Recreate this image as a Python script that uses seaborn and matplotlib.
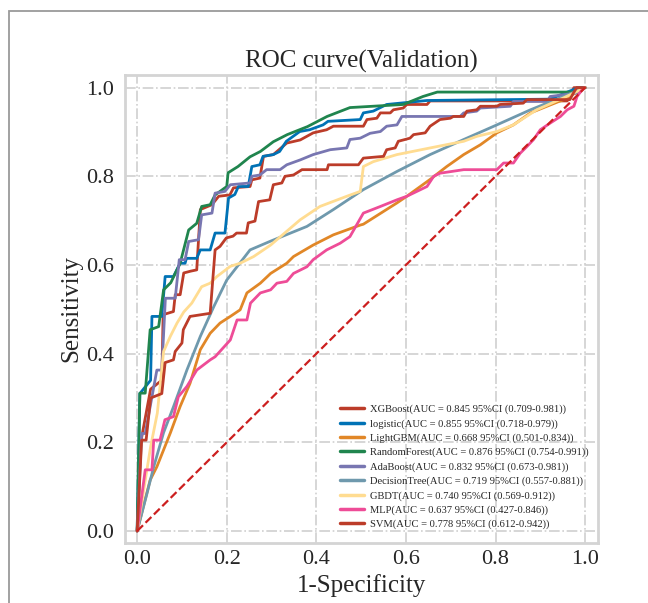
import numpy as np
import pandas as pd
import seaborn as sns
import matplotlib.pyplot as plt
from matplotlib.patches import Rectangle

# ROC points
models = ["XGBoost", "logistic", "LightGBM", "RandomForest", "AdaBoost",
          "DecisionTree", "GBDT", "MLP", "SVM"]
aucs = ["0.845", "0.855", "0.668", "0.876", "0.832", "0.719", "0.740", "0.637", "0.778"]
cis = ["0.709-0.981", "0.718-0.979", "0.501-0.834", "0.754-0.991", "0.673-0.981",
       "0.557-0.881", "0.569-0.912", "0.427-0.846", "0.612-0.942"]
colors = ["#BC3C29", "#0072B5", "#E18727", "#20854E", "#7876B1",
          "#6F99AD", "#FFDC91", "#EE4C97", "#BC3C29"]

xgb_fpr = [0, 0.008, 0.03, 0.055, 0.058, 0.081, 0.085, 0.096, 0.104, 0.119, 0.133, 0.141,
           0.167, 0.182, 0.207, 0.215, 0.252, 0.256, 0.274, 0.282, 0.304, 0.334, 0.364,
           0.393, 0.423, 0.438, 0.505, 0.513, 0.535, 0.543, 0.565, 0.572, 0.594, 0.602,
           0.647, 0.654, 0.96, 0.975, 1.0]
xgb_tpr = [0, 0.2, 0.32, 0.34, 0.488, 0.495, 0.533, 0.533, 0.582, 0.586, 0.589, 0.725,
           0.736, 0.755, 0.758, 0.774, 0.777, 0.792, 0.796, 0.845, 0.849, 0.875, 0.882,
           0.898, 0.905, 0.913, 0.913, 0.928, 0.931, 0.943, 0.943, 0.950, 0.954, 0.962,
           0.962, 0.97, 0.97, 1.0, 1.0]

log_fpr = [0, 0.006, 0.03, 0.033, 0.055, 0.0625, 0.081, 0.096, 0.107, 0.110, 0.133, 0.141,
           0.163, 0.174, 0.196, 0.204, 0.218, 0.226, 0.248, 0.256, 0.274, 0.281, 0.304,
           0.318, 0.333, 0.363, 0.385, 0.415, 0.426, 0.498, 0.505, 0.527, 0.557, 0.647,
           0.922, 0.982, 1.0]
log_tpr = [0, 0.31, 0.34, 0.484, 0.484, 0.574, 0.574, 0.604, 0.604, 0.615, 0.615, 0.634,
           0.634, 0.672, 0.672, 0.751, 0.759, 0.777, 0.777, 0.822, 0.826, 0.845, 0.849,
           0.856, 0.879, 0.901, 0.905, 0.916, 0.924, 0.928, 0.943, 0.947, 0.962, 0.971,
           0.974, 0.999, 1.0]

lgb_fpr = [0, 0.029, 0.044, 0.059, 0.074, 0.096, 0.118, 0.141, 0.163, 0.185, 0.208, 0.230,
           0.245, 0.275, 0.298, 0.334, 0.349, 0.393, 0.438, 0.498, 0.505, 0.580, 0.602,
           0.654, 0.691, 0.729, 0.766, 0.803, 0.840, 0.878, 0.952, 1.0]
lgb_tpr = [0, 0.115, 0.145, 0.183, 0.221, 0.281, 0.333, 0.409, 0.446, 0.469, 0.484, 0.499,
           0.537, 0.559, 0.581, 0.604, 0.619, 0.645, 0.668, 0.690, 0.692, 0.740, 0.755,
           0.793, 0.822, 0.849, 0.871, 0.898, 0.916, 0.943, 0.973, 1.0]

rf_fpr = [0, 0.006, 0.018, 0.029, 0.048, 0.059, 0.075, 0.096, 0.115, 0.133, 0.144, 0.163,
          0.174, 0.2, 0.203, 0.225, 0.252, 0.275, 0.304, 0.335, 0.38, 0.424, 0.475, 0.594,
          0.638, 0.67, 0.98, 1.0]
rf_tpr = [0, 0.311, 0.311, 0.454, 0.461, 0.544, 0.56, 0.604, 0.679, 0.694, 0.732, 0.736,
          0.758, 0.777, 0.808, 0.822, 0.844, 0.856, 0.878, 0.894, 0.912, 0.935, 0.955,
          0.962, 0.98, 0.99, 0.99, 1.0]

ada_fpr = [0, 0.01, 0.018, 0.044, 0.055, 0.063, 0.085, 0.094, 0.107, 0.115, 0.137, 0.144,
           0.167, 0.174, 0.196, 0.208, 0.252, 0.256, 0.274, 0.289, 0.319, 0.334, 0.364,
           0.393, 0.431, 0.468, 0.475, 0.498, 0.520, 0.543, 0.557, 0.580, 0.591, 0.721,
           0.729, 0.758, 0.766, 0.833, 0.840, 0.915, 0.922, 0.982, 1.0]
ada_tpr = [0, 0.22, 0.22, 0.363, 0.363, 0.525, 0.525, 0.612, 0.612, 0.653, 0.657, 0.713,
           0.717, 0.762, 0.766, 0.781, 0.785, 0.80, 0.803, 0.815, 0.815, 0.826, 0.837,
           0.849, 0.860, 0.864, 0.883, 0.886, 0.897, 0.901, 0.913, 0.916, 0.935, 0.935,
           0.943, 0.947, 0.954, 0.958, 0.969, 0.969, 0.980, 0.988, 1.0]

dt_fpr = [0, 0.022, 0.037, 0.059, 0.081, 0.111, 0.141, 0.171, 0.2, 0.252, 0.296, 0.379,
          0.438, 0.505, 0.580, 0.654, 0.729, 0.803, 0.878, 0.952, 1.0]
dt_tpr = [0, 0.085, 0.145, 0.222, 0.28, 0.363, 0.439, 0.506, 0.566, 0.634, 0.653, 0.687,
          0.725, 0.770, 0.811, 0.849, 0.883, 0.916, 0.950, 0.980, 1.0]

gbdt_fpr = [0, 0.03, 0.045, 0.059, 0.074, 0.089, 0.104, 0.122, 0.144, 0.163, 0.178, 0.208,
            0.230, 0.260, 0.298, 0.364, 0.408, 0.468, 0.498, 0.505, 0.513, 0.527, 0.580,
            0.654, 0.729, 0.758, 0.803, 0.840, 0.892, 0.952, 1.0]
gbdt_tpr = [0, 0.19, 0.266, 0.405, 0.439, 0.469, 0.494, 0.514, 0.551, 0.559, 0.574, 0.597,
            0.604, 0.619, 0.645, 0.702, 0.732, 0.755, 0.766, 0.822, 0.826, 0.833, 0.849,
            0.864, 0.879, 0.890, 0.901, 0.916, 0.950, 0.977, 1.0]

mlp_fpr = [0, 0.018, 0.033, 0.037, 0.051, 0.062, 0.081, 0.092, 0.111, 0.133, 0.163, 0.174,
           0.208, 0.223, 0.245, 0.253, 0.275, 0.298, 0.312, 0.334, 0.349, 0.379, 0.393,
           0.423, 0.453, 0.475, 0.505, 0.543, 0.580, 0.602, 0.647, 0.662, 0.676, 0.729,
           0.803, 0.818, 0.840, 0.855, 0.870, 0.885, 0.900, 0.922, 0.945, 0.960, 0.975,
           0.982, 0.997]
mlp_tpr = [0, 0.138, 0.138, 0.205, 0.205, 0.251, 0.258, 0.303, 0.326, 0.363, 0.386, 0.393,
           0.431, 0.476, 0.476, 0.514, 0.537, 0.544, 0.559, 0.563, 0.581, 0.596, 0.612,
           0.634, 0.649, 0.664, 0.717, 0.732, 0.747, 0.755, 0.777, 0.80, 0.807, 0.815,
           0.815, 0.830, 0.830, 0.852, 0.867, 0.883, 0.905, 0.920, 0.935, 0.950, 0.958,
           0.980, 1.0]

svm_fpr = [0, 0.01, 0.02, 0.03, 0.055, 0.0625, 0.081, 0.085, 0.1, 0.103, 0.118, 0.163,
           0.174, 0.185, 0.199, 0.214, 0.222, 0.244, 0.248, 0.263, 0.271, 0.296, 0.304,
           0.323, 0.330, 0.349, 0.368, 0.424, 0.427, 0.494, 0.505, 0.550, 0.557, 0.576,
           0.583, 0.609, 0.617, 0.643, 0.654, 0.676, 0.699, 0.706, 0.729, 0.736, 0.758,
           0.766, 0.803, 0.810, 0.862, 0.870, 0.966, 0.974, 0.981, 1.0]
svm_tpr = [0, 0.205, 0.205, 0.30, 0.31, 0.38, 0.386, 0.405, 0.424, 0.454, 0.484, 0.491,
           0.634, 0.642, 0.661, 0.665, 0.672, 0.672, 0.695, 0.699, 0.743, 0.747, 0.781,
           0.785, 0.80, 0.803, 0.815, 0.815, 0.826, 0.826, 0.841, 0.845, 0.86, 0.864,
           0.879, 0.886, 0.894, 0.898, 0.913, 0.928, 0.931, 0.935, 0.935, 0.947, 0.950,
           0.958, 0.958, 0.962, 0.965, 0.973, 0.973, 0.988, 1.0, 1.0]

fprs = [xgb_fpr, log_fpr, lgb_fpr, rf_fpr, ada_fpr, dt_fpr, gbdt_fpr, mlp_fpr, svm_fpr]
tprs = [xgb_tpr, log_tpr, lgb_tpr, rf_tpr, ada_tpr, dt_tpr, gbdt_tpr, mlp_tpr, svm_tpr]

sns.set_style("whitegrid")
plt.rcParams["font.family"] = ["Liberation Serif", "DejaVu Serif"]

fig = plt.figure(figsize=(6.48, 6.03), dpi=100)
ax = fig.add_axes([0.193, 0.0995, 0.730, 0.7765])

for name, auc, ci, col, fpr, tpr in zip(models, aucs, cis, colors, fprs, tprs):
    df = pd.DataFrame({"fpr": fpr, "tpr": tpr})
    sns.lineplot(data=df, x="fpr", y="tpr", sort=False, estimator=None, color=col,
                 linewidth=2, ax=ax, label=f"{name}(AUC = {auc} 95%CI ({ci}))")

ax.plot([0, 1], [0, 1], linestyle="--", color="#CC1F1F", linewidth=1.6)

ax.set_xlim(-0.027, 1.029)
ax.set_ylim(-0.027, 1.029)
ax.set_xticks(np.arange(0, 1.01, 0.2))
ax.set_yticks(np.arange(0, 1.01, 0.2))
ax.grid(True, linestyle="-.", color="#cfcfcf", linewidth=1.2)
for s in ax.spines.values():
    s.set_color("#d4d4d4")
    s.set_linewidth(2)
ax.tick_params(axis="x", labelsize=16, length=0, pad=5)
ax.tick_params(axis="y", labelsize=16, length=0, pad=8)
ax.set_xlabel("1-Specificity", fontsize=18, labelpad=4)
ax.set_ylabel("Sensitivity", fontsize=18, labelpad=3)
ax.set_title("ROC curve(Validation)", fontsize=18, pad=5)
leg = ax.legend(loc="lower right", fontsize=7.6, frameon=False, handlelength=2.3,
                bbox_to_anchor=(1.0, 0.009), labelspacing=0.45, handletextpad=0.55)
for line in leg.get_lines():
    line.set_linewidth(2.5)

# outer frame of the screenshot
fig.add_artist(Rectangle((9 / 648, -0.1), 1.0, 1.1 - 11 / 603, transform=fig.transFigure,
                         fill=False, edgecolor="#9a9a9a", linewidth=1.3))

fig.savefig("out.png", dpi=100)
